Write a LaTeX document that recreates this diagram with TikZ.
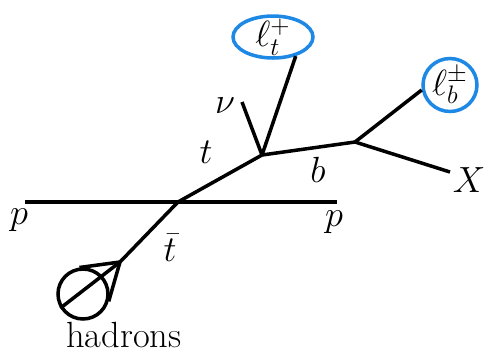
\documentclass[tikz,border=0pt]{standalone}
\usetikzlibrary{shapes.geometric,calc}
\definecolor{lepblue}{HTML}{1E88E5}

\begin{document}
\begin{tikzpicture}[
    x=0.02cm, y=-0.02cm,
    leg/.style={line width=2pt},
    lepton/.style={
        ellipse,
        draw=lepblue,
        line width=2pt,
        inner sep=0pt
    },
    lbl/.style={font=\huge, inner sep=0pt}
]
    \useasboundingbox (0,0) rectangle (485,353);

    % vertices and free ends
    \coordinate (pin) at (25,202);
    \coordinate (pout) at (337,202);
    \coordinate (prod) at (178,202);
    \coordinate (tdec) at (262,155);
    \coordinate (bdec) at (355,142);
    \coordinate (nuend) at (242,102);
    \coordinate (Xend) at (450,172);
    \coordinate (tip) at (120,262);

    \node[lepton, minimum width=1.6cm, minimum height=0.84cm,
        label={center:\huge$\ell_t^+$}] (lt) at (273,37) {};
    \node[lepton, minimum width=1.08cm, minimum height=1.06cm,
        label={center:\huge$\ell_b^\pm$}] (lb) at (450,85) {};
    \node[circle, draw, line width=2pt, minimum size=1cm, inner sep=0pt] (had) at (83,294) {};

    \draw[leg] (pin) -- (pout);
    \draw[leg] (prod) -- (tdec);
    \draw[leg] (tdec) -- (bdec);
    \draw[leg] (tdec) -- (nuend);
    \draw[leg] (tdec) -- (lt.-40);
    \draw[leg] (bdec) -- (lb.190);
    \draw[leg] (bdec) -- (Xend);
    \draw[leg] (prod) -- (tip);
    \draw[leg] (tip) -- (had.212);
    \draw[leg] (tip) -- (tangent cs:node=had,point={(tip)},solution=1);
    \draw[leg] (tip) -- (tangent cs:node=had,point={(tip)},solution=2);

    \node[lbl] (pl) at (19,220) {$p$};
    \node[lbl] (pr) at (334,222) {$p$};
    \node[lbl] (tlbl) at (206,152) {$t$};
    \node[lbl] (blbl) at (318,170) {$b$};
    \node[lbl] (nulbl) at (225,106) {$\nu$};
    \node[lbl] (tbar) at (170,248) {$\bar t$};
    \node[lbl] (Xlbl) at (469,180) {$X$};
    \node[lbl] (hlbl) at (124,335) {hadrons};
\end{tikzpicture}
\end{document}
